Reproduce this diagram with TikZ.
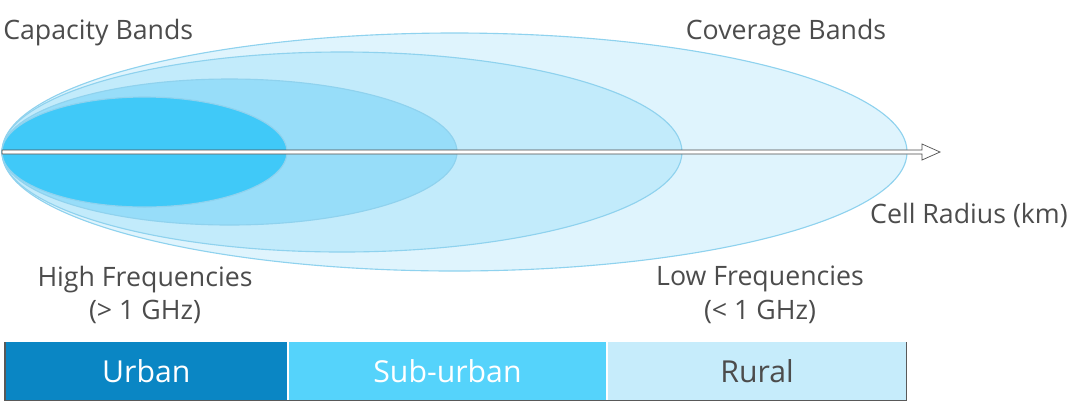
\documentclass[tikz,border=0pt]{standalone}
\usepackage{fontspec}
\setmainfont{Open Sans}
\usetikzlibrary{positioning}

\definecolor{bandfour}{HTML}{DFF4FD}
\definecolor{bandthree}{HTML}{C2EBFB}
\definecolor{bandtwo}{HTML}{97DDF9}
\definecolor{bandone}{HTML}{40C9F8}
\definecolor{bandline}{HTML}{8FD2EE}
\definecolor{urbanfill}{HTML}{0A86C4}
\definecolor{suburbfill}{HTML}{55D3FB}
\definecolor{ruralfill}{HTML}{C6ECFB}

\tikzset{
  band/.style={draw=bandline, line width=0.8pt},
  lbl/.style={text=black!70, inner sep=0pt, font=\fontsize{19}{24}\selectfont},
  zone/.style={minimum height=1.45cm, inner sep=0pt, font=\fontsize{21.5}{26}\selectfont}
}

\begin{document}
\begin{tikzpicture}[x=0.025cm,y=-0.025cm]
    \useasboundingbox (0,0) rectangle (1075,410);

    \draw[band, fill=bandfour] (454.5,152) ellipse [x radius=452.5, y radius=119];
    \draw[band, fill=bandthree] (342,152) ellipse [x radius=340, y radius=100];
    \draw[band, fill=bandtwo] (229.5,152) ellipse [x radius=227.5, y radius=73];
    \draw[band, fill=bandone] (144.5,152) ellipse [x radius=142.5, y radius=55];

    % radius axis
    \coordinate (origin) at (2,152);
    \coordinate (tip) at (940,152);
    \draw[black!70, fill=white, line width=0.5pt] (origin) ++(0,-2) -- (922,150) -- (922,144) -- (tip)
        -- (922,160) -- (922,154) -- (2,154) -- cycle;

    \node[lbl, anchor=west] (capacity) at (3,33) {Capacity Bands};
    \node[lbl] (coverage) at (786,33) {Coverage Bands};
    \node[lbl, anchor=east] (radius) at (1068,215) {Cell Radius (km)};
    \node[lbl, align=center] (high) at (145,295) {High Frequencies\\(> 1 GHz)};
    \node[lbl, align=center] (low) at (760,295) {Low Frequencies\\(< 1 GHz)};

    \node[zone, fill=urbanfill, text=white, minimum width=7.05cm, anchor=north west] (urban) at (5,342) {Urban};
    \node[zone, fill=suburbfill, text=white, minimum width=7.925cm, right=0.025cm of urban] (suburban) {Sub-urban};
    \node[zone, fill=ruralfill, text=black!70, minimum width=7.475cm, right=0.025cm of suburban] (rural) {Rural};
    \draw[black!65, line width=0.8pt] (urban.north west) -- (urban.south west) -- (rural.south east) -- (rural.north east);
\end{tikzpicture}
\end{document}
